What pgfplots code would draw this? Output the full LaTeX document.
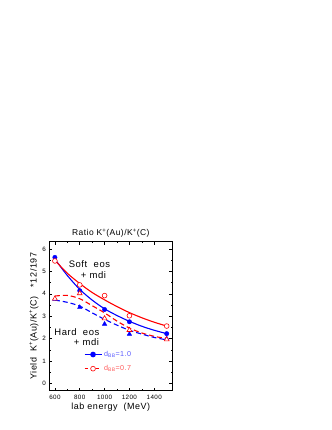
\documentclass[border=0pt]{standalone}
\usepackage{pgfplots}
\pgfplotsset{compat=1.18}
\usepackage{fontspec}
\setmainfont[LetterSpace=6]{Liberation Sans}
\definecolor{lblue}{RGB}{90,90,255}
\definecolor{lred}{RGB}{255,90,90}
\begin{document}
\begin{tikzpicture}[x=1bp,y=1bp]
\path[use as bounding box] (0,0) rectangle (332,430);
\begin{axis}[
  at={(49.3bp,39.3bp)}, anchor=south west,
  scale only axis, width=123bp, height=149bp,
  xmin=555, xmax=1545, ymin=-0.33, ymax=6.33,
  xtick={600,800,1000,1200,1400}, ytick={0,1,2,3,4,5,6},
  minor x tick num=1, minor y tick num=1,
  tick align=inside,
  major tick length=3bp, minor tick length=1.6bp,
  tick style={line width=0.5bp, black},
  axis line style={line width=0.7bp},
  /pgf/number format/assume math mode=true,
  /pgf/number format/1000 sep={},
  tick label style={font=\fontsize{6.3}{7}\selectfont},
  xticklabel style={yshift=-1pt},
  title={Ratio K\textsuperscript{+}(Au)/K\textsuperscript{+}(C)},
  title style={font=\fontsize{8.5}{9}\selectfont, yshift=-5bp},
  xlabel={lab energy\ \ (MeV)},
  xlabel style={font=\fontsize{9}{10}\selectfont, yshift=3bp},
  ylabel={Yield\ \ K\textsuperscript{+}(Au)/K\textsuperscript{+}(C)\ \ \ *12/197},
  ylabel style={font=\fontsize{9}{10}\selectfont, yshift=-3bp},
  legend style={at={(0.28,0.28)}, anchor=north west, draw=none, fill=none,
    font=\fontsize{7.2}{8}\selectfont, row sep=3.5pt, inner sep=0pt},
  legend cell align=left,
  clip=false,
]
% legend images
\addlegendimage{blue, line width=1.2bp, mark=*, mark size=2.2bp, mark options={solid}}
\addlegendentry{\textcolor{lblue}{d\textsubscript{BB}=1.0}}
\addlegendimage{red, line width=1.2bp, dashed, mark=*, mark size=2.4bp, mark options={solid, fill=white, line width=0.6bp}}
\addlegendentry{\textcolor{lred}{d\textsubscript{BB}=0.7}}
% solid blue fit curve
\addplot[blue, line width=1.1bp, smooth, forget plot] coordinates {
(600,5.55) (700,4.82) (800,4.2) (900,3.72) (1000,3.33) (1100,3.03) (1200,2.77) (1300,2.55) (1400,2.37) (1500,2.22)};
% solid red fit curve
\addplot[red, line width=1.1bp, smooth, forget plot] coordinates {
(600,5.5) (700,4.92) (800,4.46) (900,4.06) (1000,3.73) (1100,3.43) (1200,3.16) (1300,2.93) (1400,2.73) (1500,2.56)};
% dashed red fit curve
\addplot[red, line width=1.1bp, dashed, dash pattern=on 5bp off 3bp, smooth, forget plot] coordinates {
(600,3.9) (700,3.93) (800,3.78) (900,3.47) (1000,3.15) (1100,2.78) (1200,2.47) (1300,2.25) (1400,2.1) (1500,2.0)};
% dashed blue fit curve
\addplot[blue, line width=1.1bp, dashed, dash pattern=on 5bp off 3bp, smooth, forget plot] coordinates {
(600,3.72) (700,3.62) (800,3.45) (900,3.15) (1000,2.86) (1100,2.6) (1200,2.37) (1300,2.2) (1400,2.05) (1500,1.94)};
% data points
\addplot[only marks, blue, mark=*, mark size=2.2bp, forget plot] coordinates {
(600,5.63) (800,4.14) (1000,3.30) (1200,2.75) (1500,2.22)};
\addplot[only marks, red, mark=*, mark size=2.4bp, mark options={fill=white, line width=0.6bp}, forget plot] coordinates {
(600,5.47) (800,4.40) (1000,3.92) (1200,3.02) (1500,2.56)};
\addplot[only marks, blue, mark=triangle*, mark size=2.6bp, forget plot] coordinates {
(600,3.75) (800,3.40) (1000,2.65) (1200,2.20) (1500,2.00)};
\addplot[only marks, red, mark=triangle*, mark size=2.8bp, mark options={fill=white, line width=0.6bp}, forget plot] coordinates {
(600,3.78) (800,4.02) (1000,2.90) (1200,2.38) (1500,1.96)};
% annotations
\node[font=\fontsize{9.5}{10}\selectfont] at (axis cs:878,5.33) {Soft\ \ eos};
\node[font=\fontsize{9.5}{10}\selectfont] at (axis cs:910,4.84) {+\ mdi};
\node[font=\fontsize{9.5}{10}\selectfont] at (axis cs:777,2.30) {Hard\ \ eos};
\node[font=\fontsize{9.5}{10}\selectfont] at (axis cs:854,1.85) {+\ mdi};
\end{axis}
\end{tikzpicture}
\end{document}
